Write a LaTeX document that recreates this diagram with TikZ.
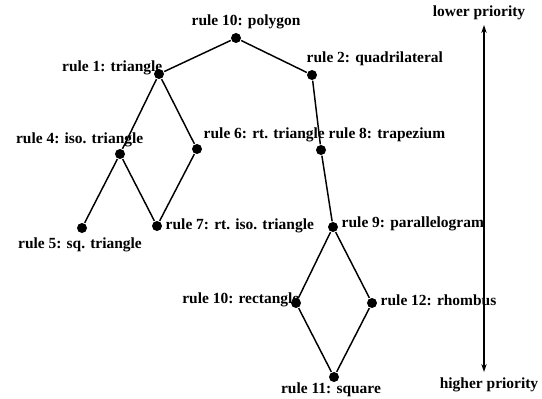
\documentclass[tikz,border=0pt]{standalone}
\usepackage{fontspec}
\setmainfont{Liberation Serif}
\usetikzlibrary{positioning}
\usetikzlibrary{arrows.meta}

\begin{document}
\begin{tikzpicture}[x=0.75pt,y=-0.75pt,line width=1.1pt,
  dot/.style={circle,fill,inner sep=0pt,minimum size=7.5pt},
  lbl/.style={font=\bfseries\fontsize{11.6}{14}\selectfont,inner sep=0pt}]
\useasboundingbox (0,0) rectangle (542,399);

\node[dot] (poly) at (236,38) {};
\node[dot] (tri) at (159,74) {};
\node[dot] (quad) at (312,75) {};
\node[dot] (iso) at (120,154) {};
\node[dot] (rt) at (197,149) {};
\node[dot] (trap) at (321,150) {};
\node[dot] (sq) at (82,228) {};
\node[dot] (rtiso) at (157,226) {};
\node[dot] (par) at (333,227) {};
\node[dot] (rect) at (296,303) {};
\node[dot] (rhomb) at (372,303) {};
\node[dot] (squ) at (334,377) {};

\node[lbl] (poly-l) at (246,22) {rule 10: polygon};
\node[lbl,anchor=east] (tri-l) at (163,68) {rule 1: triangle};
\node[lbl,anchor=west] (quad-l) at (306,59) {rule 2: quadrilateral};
\node[lbl,anchor=east] (iso-l) at (144,140) {rule 4: iso. triangle};
\node[lbl,anchor=west] (rt-l) at (203,135) {rule 6: rt. triangle};
\node[lbl,anchor=west] (trap-l) at (328,135) {rule 8: trapezium};
\node[lbl] (sq-l) at (80,245) {rule 5: sq. triangle};
\node[lbl,anchor=west] (rtiso-l) at (165,226) {rule 7: rt. iso. triangle};
\node[lbl,anchor=west] (par-l) at (341,224) {rule 9: parallelogram};
\node[lbl,anchor=east] (rect-l) at (300,300) {rule 10: rectangle};
\node[lbl,anchor=west] (rhomb-l) at (380,300) {rule 12: rhombus};
\node[lbl] (squ-l) at (331,390) {rule 11: square};

\node[lbl] (low) at (479,13) {lower priority};
\node[lbl] (high) at (489,385) {higher priority};
\coordinate (top) at (484,25);
\coordinate (bot) at (484,372);

\draw (poly)--(tri) (poly)--(quad);
\draw (tri)--(iso) (tri)--(rt);
\draw (iso)--(sq) (iso)--(rtiso) (rt)--(rtiso);
\draw (quad)--(trap)--(par);
\draw (par)--(rect)--(squ) (par)--(rhomb)--(squ);
\draw[{Stealth[length=6pt,width=4pt]}-{Stealth[length=6pt,width=4pt]}] (top)--(bot);
\end{tikzpicture}
\end{document}
